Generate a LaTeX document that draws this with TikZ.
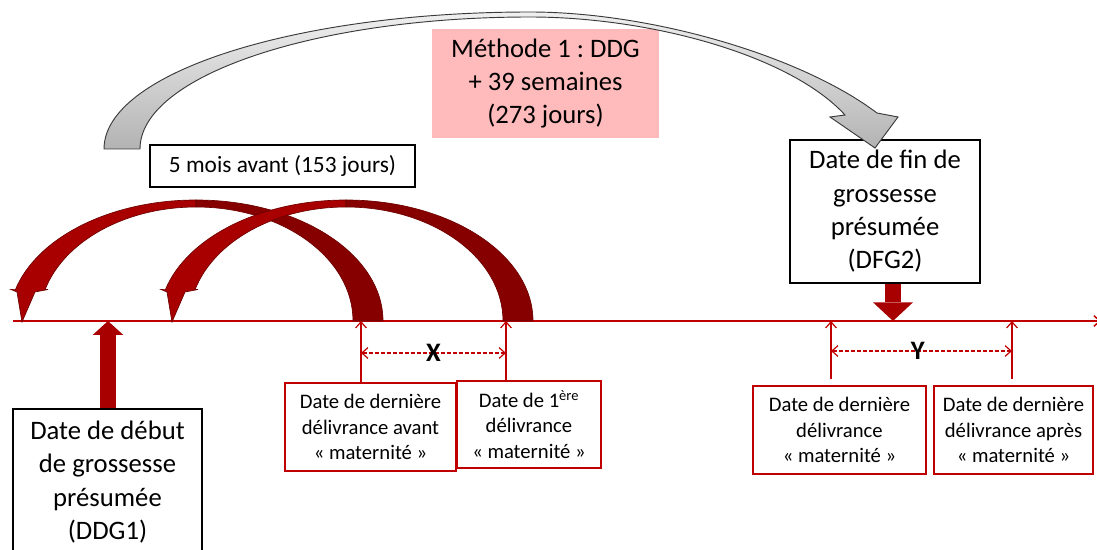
\documentclass[tikz,border=0pt]{standalone}
\usepackage{fontspec}
\setmainfont{Carlito}
\usepackage{tikz}
\usetikzlibrary{arrows.meta, positioning, calc}
\definecolor{axisred}{HTML}{C00000}
\definecolor{arcfront}{HTML}{A80000}
\definecolor{arcback}{HTML}{860000}
\definecolor{arcedge}{HTML}{6E0000}
\definecolor{pinkbox}{HTML}{FFBBBB}
\definecolor{greyedge}{HTML}{3A3A3A}
\frenchspacing

\tikzset{
  redbox/.style={draw=axisred, line width=1.1pt, fill=white, inner sep=0pt, align=center, minimum height=66pt, font=\fontsize{15.5}{19}\selectfont},
  blackbox/.style={draw=black, line width=0.8pt, fill=white, inner sep=0pt, align=center, font=\fontsize{20}{25}\selectfont},
  uparrow/.style={axisred, line width=0.9pt, -{Straight Barb[length=4.5pt,width=8pt]}},
  gaparrow/.style={axisred, line width=0.9pt, dash pattern=on 3pt off 1.5pt, {Straight Barb[length=4.5pt,width=8pt]}-{Straight Barb[length=4.5pt,width=8pt]}},
  gaplabel/.style={font=\fontsize{20}{22}\selectfont\bfseries, text=black, inner sep=0pt},
  blockarrow/.style={arcfront, line width=12pt}
}

\begin{document}
\begin{tikzpicture}[x=0.75pt, y=0.75pt]
  \useasboundingbox (0,0) rectangle (1097,550);

  % Time axis
  \coordinate (start) at (13,229);
  \coordinate (end) at (1101,229);
  \draw[axisred, line width=1.1pt, -{Straight Barb[length=4.5pt,width=8pt]}] (start) -- (end);

  % Points on the axis
  \coordinate (ddgpt) at (108,229);
  \coordinate (dfgpt) at (893,229);
  \coordinate (ta) at (361,229);
  \coordinate (tb) at (506,229);
  \coordinate (tc) at (831,229);
  \coordinate (td) at (1012,229);

  % Red curved arrows: 5 months back
  \foreach \c in {196,346} {
    \filldraw[arcfront, draw=arcedge, line width=0.5pt]
      (\c,229) ++(165:187 and 121) arc[start angle=165, end angle=90, x radius=187, y radius=121]
      -- ++(0,-7) arc[start angle=90, end angle=164, x radius=157, y radius=114]
      -- ({\c-148},260.5) -- ({\c-161},258) -- ({\c-174},228)
      -- ({\c-179},258) -- ({\c-185},260.5) -- cycle;
    \filldraw[arcback, draw=arcedge, line width=0.5pt]
      (\c,350) arc[start angle=90, end angle=0, x radius=187, y radius=121]
      -- ++(-30,0) arc[start angle=0, end angle=90, x radius=157, y radius=114] -- cycle;
  }

  % Boxes
  \node[blackbox, minimum width=198.75pt, minimum height=31.5pt, font=\fontsize{17.5}{20}\selectfont] (fivemonths) at (282.5,384) {5 mois avant (153 jours)};
  \node[fill=pinkbox, minimum width=170.25pt, minimum height=81.75pt, inner sep=0pt, align=center, font=\fontsize{20}{25}\selectfont] (method) at (545.5,466.5) {Méthode 1 : DDG\\+ 39 semaines\\(273 jours)};
  \node[blackbox, minimum width=142.5pt, minimum height=107.25pt] (dfg) at (885,338.5) {Date de fin de\\grossesse\\présumée\\(DFG2)};
  \node[blackbox, minimum width=141.75pt, minimum height=109.5pt] (ddg) at (107.5,68) {Date de début\\de grossesse\\présumée\\(DDG1)};

  \node[redbox, minimum width=128.25pt] (lastbefore) at (370.5,123) {Date de dernière\\délivrance avant\\« maternité »};
  \node[redbox, minimum width=108pt, minimum height=65.25pt] (firstmat) at (529,125.5) {Date de 1\textsuperscript{ère}\\délivrance\\« maternité »};
  \node[redbox, minimum width=129.75pt] (lastmat) at (839.5,120) {Date de dernière\\délivrance\\« maternité »};
  \node[redbox, minimum width=119.25pt] (lastafter) at (1013.5,120) {Date de dernière\\délivrance après\\« maternité »};

  % Grey arc: DDG + 39 weeks
  \draw[greyedge, line width=0.7pt, top color=gray!12, bottom color=gray!60]
    (104,401) .. controls (104,477) and (295,538) .. (530,538)
    .. controls (650,538) and (800,495) .. (877,437)
    -- (898,433) -- (875,402) -- (830,433) -- (845,435)
    .. controls (790,495) and (650,533) .. (530,533)
    .. controls (315,533) and (140,474) .. (140,401) -- cycle;

  % Block arrows to the axis
  \draw[blockarrow, -{Triangle[length=10.5pt,width=23pt,line width=0pt]}] (ddg.north -| ddgpt) -- (ddgpt);
  \draw[blockarrow, -{Triangle[length=14pt,width=30pt,line width=0pt]}] (dfg.south -| dfgpt) -- (dfgpt);

  % Deliveries
  \draw[uparrow] (lastbefore.north -| ta) -- (ta);
  \draw[uparrow] (firstmat.north -| tb) -- (tb);
  \draw[uparrow] ($(lastmat.north -| tc)+(0,6)$) -- (tc);
  \draw[uparrow] ($(lastafter.north -| td)+(0,6)$) -- (td);

  % Gaps X and Y
  \coordinate (xl) at (361,197);
  \coordinate (xr) at (506,197);
  \coordinate (yl) at (831,199);
  \coordinate (yr) at (1012,199);
  \draw[gaparrow] (xl) -- (xr) node[midway, gaplabel] (gapx) {X};
  \draw[gaparrow] (yl) -- (yr) node[pos=0.48, gaplabel] (gapy) {Y};
\end{tikzpicture}
\end{document}
